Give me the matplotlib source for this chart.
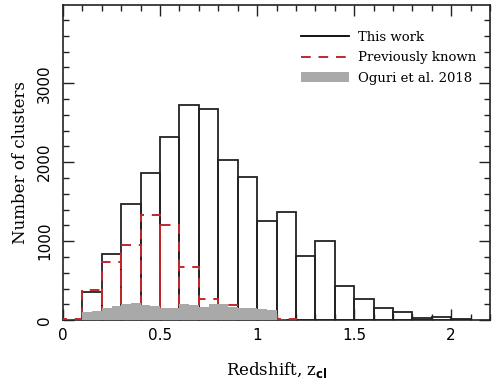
import matplotlib
matplotlib.use("Agg")
import matplotlib.pyplot as plt
import numpy as np
from matplotlib.lines import Line2D
from matplotlib.patches import Patch
from matplotlib.ticker import FuncFormatter, MultipleLocator

# This work: bins of 0.1 from z=0.1 to z=2.1
this_edges_start = 0.1
this_counts = [354, 839, 1477, 1869, 2316, 2729, 2669, 2022, 1813, 1252,
               1371, 809, 1000, 430, 272, 149, 98, 22, 42, 20]

# Previously known: bins of 0.1 from z=0.0 to z=1.2
prev_edges_start = 0.0
prev_counts = [15, 383, 732, 949, 1332, 1204, 677, 268, 192, 130, 70, 20]

# Oguri et al. 2018: bins of 0.05 from z=0.1 to z=1.1
oguri_edges_start = 0.1
oguri_counts = [105, 110, 150, 175, 210, 220, 190, 175, 150, 160,
                200, 195, 165, 200, 205, 170, 160, 155, 140, 125]

serif = "DejaVu Serif"
red = "#c0282c"
grey = "#a9a9a9"
dash = (0, (5, 4))

fig = plt.figure(figsize=(5.0, 3.89), dpi=100)
ax = fig.add_axes([0.126, 0.177, 0.854, 0.81])

w1 = 0.1
x1 = this_edges_start + w1 * np.arange(len(this_counts))
ax.bar(x1, this_counts, width=w1, align="edge", fill=False,
       edgecolor="#222222", linewidth=1.3, zorder=2)

x2 = prev_edges_start + w1 * np.arange(len(prev_counts))
ax.bar(x2, prev_counts, width=w1, align="edge", fill=False,
       edgecolor=red, linewidth=1.4, linestyle=dash, zorder=3)

w3 = 0.05
edges3 = oguri_edges_start + w3 * np.arange(len(oguri_counts) + 1)
ax.stairs(oguri_counts, edges3, fill=True, color=grey, zorder=4)

ax.set_xlim(0, 2.2)
ax.set_ylim(0, 3990)

ax.xaxis.set_major_locator(MultipleLocator(0.5))
ax.xaxis.set_minor_locator(MultipleLocator(0.1))
ax.yaxis.set_major_locator(MultipleLocator(1000))
ax.yaxis.set_minor_locator(MultipleLocator(200))
ax.xaxis.set_major_formatter(FuncFormatter(lambda v, p: "%g" % v))
ax.tick_params(which="both", direction="in", top=True, right=True,
               width=1.0, colors="#222222")
ax.tick_params(which="major", length=8, labelsize=11, labelcolor="black")
ax.tick_params(which="minor", length=4)
ax.tick_params(axis="x", pad=6)
ax.tick_params(axis="y", pad=8)
for lab in ax.get_yticklabels():
    lab.set_rotation(90)
    lab.set_va("center")
for sp in ax.spines.values():
    sp.set_linewidth(1.2)
    sp.set_color("#222222")

ax.set_xlabel(r"Redshift, z$_{\mathbf{cl}}$", fontsize=12, family=serif,
              labelpad=12)
ax.set_ylabel("Number of clusters", fontsize=12, family=serif, labelpad=6)

handles = [
    Line2D([], [], color="black", linewidth=1.3),
    Line2D([], [], color=red, linewidth=1.4, linestyle=dash),
    Patch(facecolor=grey, edgecolor="none"),
]
ax.legend(handles, ["This work", "Previously known", "Oguri et al. 2018"],
          loc="upper right", frameon=False, prop={"family": serif, "size": 9.5},
          handlelength=3.6, handleheight=0.8, handletextpad=0.7,
          labelspacing=0.55, bbox_to_anchor=(0.995, 0.955))

fig.savefig("out.png", dpi=100)
